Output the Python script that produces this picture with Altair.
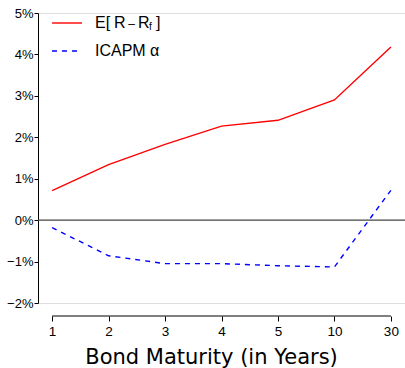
import altair as alt
import pandas as pd

maturity = ["1", "2", "3", "4", "5", "10", "30"]
excess_return = [0.71, 1.34, 1.83, 2.27, 2.41, 2.90, 4.18]
icapm_alpha = [-0.18, -0.86, -1.05, -1.05, -1.10, -1.13, 0.72]

df = pd.DataFrame({
    "maturity": maturity * 2,
    "value": excess_return + icapm_alpha,
    "series": ["E"] * len(maturity) + ["A"] * len(maturity),
})

W, H = 367, 290
FONT = "Liberation Sans"

xscale = alt.Scale(type="point", domain=maturity, padding=0.25)
yscale = alt.Scale(domain=[-2, 5], nice=False, zero=False)

xaxis = alt.Axis(
    title="Bond Maturity (in Years)", titleFont="DejaVu Sans", titleFontSize=21,
    titleFontWeight="normal", titleColor="black", titlePadding=9,
    titleX=173, titleAlign="center",
    labelAngle=0, labelFont=FONT, labelFontSize=13.5, labelColor="black",
    labelPadding=3, tickSize=5, tickColor="black", domain=False, grid=False,
    offset=13,
)
yaxis = alt.Axis(
    title=None, values=list(range(-2, 6)), labelExpr="format(datum.value,'d') + '%'",
    labelFont=FONT, labelFontSize=13, labelColor="black", labelPadding=1,
    tickSize=4, tickColor="black", domainColor="black", grid=False,
)

base = alt.Chart(df)

red = base.transform_filter(alt.datum.series == "E").mark_line(
    color="#ff0000", strokeWidth=1.4
).encode(
    x=alt.X("maturity:N", scale=xscale, axis=xaxis, sort=maturity),
    y=alt.Y("value:Q", scale=yscale, axis=yaxis),
)
blue = base.transform_filter(alt.datum.series == "A").mark_line(
    color="#0000ff", strokeWidth=1.4, strokeDash=[5, 5]
).encode(
    x=alt.X("maturity:N", scale=xscale, sort=maturity),
    y=alt.Y("value:Q", scale=yscale),
)

zero = alt.Chart(pd.DataFrame({"v": [0]})).mark_rule(color="#444444", strokeWidth=1.2).encode(
    y=alt.Y("v:Q", scale=yscale), x=alt.value(0), x2=alt.value(W)
)

xdomain = alt.Chart(pd.DataFrame({"a": ["1"], "b": ["30"]})).mark_rule(color="black", strokeWidth=1).encode(
    x=alt.X("a:N", scale=xscale), x2="b:N", y=alt.value(H + 13)
)

one = pd.DataFrame({"k": [0]})
leg_red = alt.Chart(one).mark_rule(color="#ff0000", strokeWidth=1.4).encode(
    x=alt.value(14), x2=alt.value(44), y=alt.value(10))
leg_blue = alt.Chart(one).mark_rule(color="#0000ff", strokeWidth=1.4, strokeDash=[5, 5]).encode(
    x=alt.value(14), x2=alt.value(44), y=alt.value(38))


def txt(x, y, s, size=16, align="left"):
    return alt.Chart(one).mark_text(align=align, baseline="middle", font=FONT, fontSize=size).encode(
        x=alt.value(x), y=alt.value(y), text=alt.value(s))


legend_text = [
    txt(57, 10, "E["), txt(76, 10, "R"), txt(93.5, 11, "–", 12, "center"), txt(100, 10, "R"),
    txt(111, 14, "f", 10), txt(118, 10, "]"),
    txt(57, 38, "ICAPM  α"),
]

chart = alt.layer(zero, red, blue, xdomain, leg_red, leg_blue, *legend_text).properties(
    width=W, height=H,
    autosize=alt.AutoSizeParams(type="none"),
    padding={"left": 38, "top": 13, "right": 0, "bottom": 65},
).configure_view(stroke=None).configure(background="white")

chart.save("out.html", embed_options={"renderer": "svg", "actions": False})
